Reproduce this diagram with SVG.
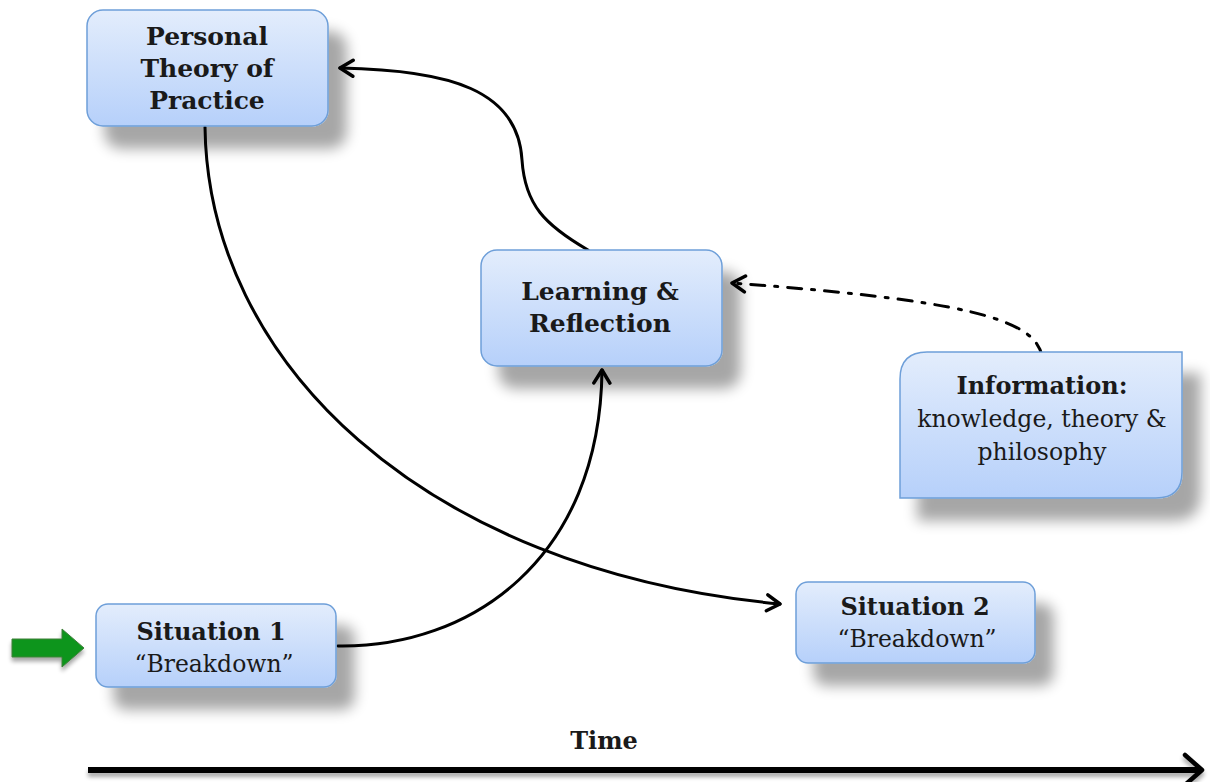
<svg xmlns="http://www.w3.org/2000/svg" width="1210" height="782" viewBox="0 0 1210 782">
<defs>
<linearGradient id="g" x1="0" y1="0" x2="0" y2="1">
<stop offset="0" stop-color="#e3edfc"/>
<stop offset="1" stop-color="#b6d0fa"/>
</linearGradient>
<filter id="sh" x="-20%" y="-20%" width="150%" height="170%">
<feGaussianBlur in="SourceAlpha" stdDeviation="7"/>
<feOffset dx="18" dy="22" result="b"/>
<feComponentTransfer><feFuncA type="linear" slope="0.35"/></feComponentTransfer>
<feMerge><feMergeNode/><feMergeNode in="SourceGraphic"/></feMerge>
</filter>
<filter id="sh2" filterUnits="userSpaceOnUse" x="0" y="600" width="1210" height="182">
<feGaussianBlur in="SourceAlpha" stdDeviation="2"/>
<feOffset dx="0" dy="4" result="b"/>
<feComponentTransfer><feFuncA type="linear" slope="0.35"/></feComponentTransfer>
<feMerge><feMergeNode/><feMergeNode in="SourceGraphic"/></feMerge>
</filter>
<marker id="ah" viewBox="0 0 20 20" refX="17" refY="10" markerWidth="20" markerHeight="20" markerUnits="userSpaceOnUse" orient="auto">
<path d="M4,2 L17,10 L4,18" fill="none" stroke="#000" stroke-width="3.5" stroke-linecap="round" stroke-linejoin="round"/>
</marker>
<marker id="ah2" viewBox="0 0 24 36" refX="20" refY="18" markerWidth="24" markerHeight="36" markerUnits="userSpaceOnUse" orient="auto">
<path d="M3,3 L20,18 L3,33" fill="none" stroke="#000" stroke-width="4.5" stroke-linecap="round" stroke-linejoin="round"/>
</marker>
<style>
.box{fill:url(#g);stroke:#6e9fd9;stroke-width:1.5;filter:url(#sh)}
.b{font-family:"DejaVu Serif","Liberation Serif",serif;font-weight:bold;font-size:25px;fill:#1a1a1a;text-anchor:middle}
.s{font-size:24px}
.r{font-family:"DejaVu Serif","Liberation Serif",serif;font-size:23.5px;fill:#1a1a1a;text-anchor:middle}
.c{fill:none;stroke:#000;stroke-width:3;stroke-linecap:round}
</style>
</defs>
<g id="connectors">
<path class="c" d="M205,127 C208,360 420,570 780,604" marker-end="url(#ah)"/>
<path class="c" d="M338,646 C470,648 600,560 602,370" marker-end="url(#ah)"/>
<path class="c" d="M588,250 C545,225 525,205 522,160 C518,90 450,70 340,68" marker-end="url(#ah)"/>
<path class="c" d="M1042,356 C1035,318 960,300 732,283" stroke-dasharray="14,10,3,10" marker-end="url(#ah)"/>
</g>
<g id="personal">
<rect class="box" x="87" y="10" width="241" height="116" rx="16"/>
<text class="b" x="207" y="45">Personal</text>
<text class="b" x="207" y="77">Theory of</text>
<text class="b" x="207" y="109">Practice</text>
</g>
<g id="learning">
<rect class="box" x="481" y="250" width="241" height="116" rx="16"/>
<text class="b" x="600" y="300">Learning &amp;</text>
<text class="b" x="600" y="332">Reflection</text>
</g>
<g id="information">
<path class="box" d="M927,352 H1182 V472 Q1182,498 1156,498 H900 V379 Q900,352 927,352 Z"/>
<text class="b s" x="1042" y="394">Information:</text>
<text class="r" x="1042" y="427">knowledge, theory &amp;</text>
<text class="r" x="1042" y="460">philosophy</text>
</g>
<g id="situation1">
<rect class="box" x="96" y="604" width="240" height="83" rx="12"/>
<text class="b s" x="211" y="640">Situation 1</text>
<text class="r" x="214" y="672">“Breakdown”</text>
</g>
<g id="situation2">
<rect class="box" x="796" y="582" width="239" height="81" rx="12"/>
<text class="b s" x="915" y="615">Situation 2</text>
<text class="r" x="917" y="647">“Breakdown”</text>
</g>
<g id="start">
<path d="M12,639 H62 V629 L84,648 L62,667 V657 H12 Z" fill="#11951f" stroke="#3f7f3a" stroke-width="1" filter="url(#sh2)"/>
</g>
<g id="time">
<path d="M88,770 H1202" fill="none" stroke="#000" stroke-width="6" marker-end="url(#ah2)" filter="url(#sh2)"/>
<text class="b s" x="604" y="749">Time</text>
</g>
</svg>
